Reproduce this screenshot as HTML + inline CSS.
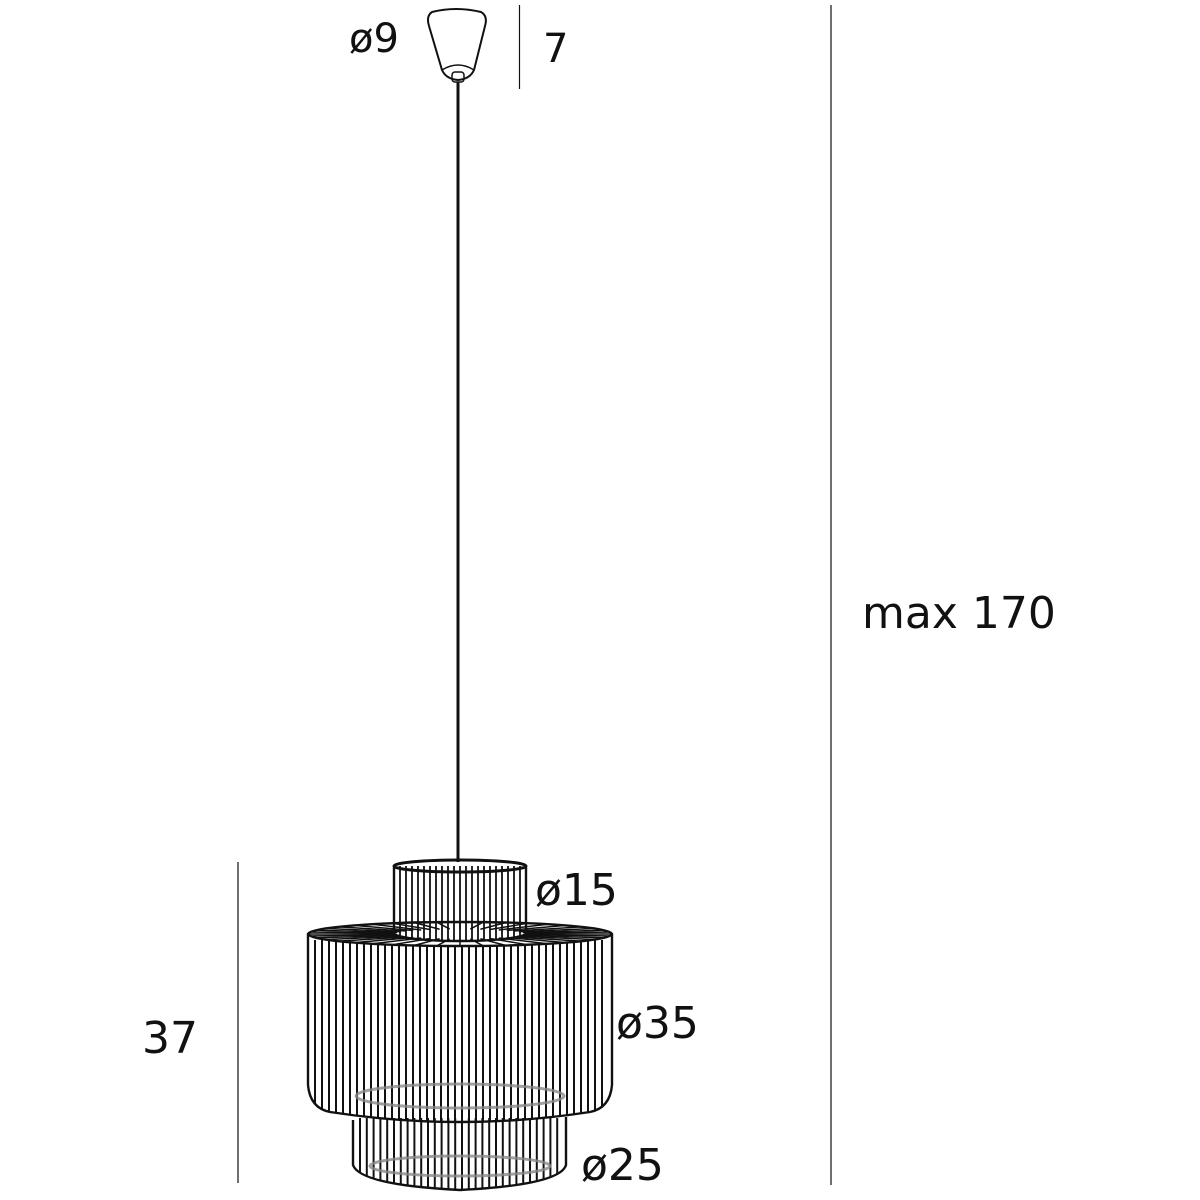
<!DOCTYPE html>
<html><head><meta charset="utf-8"><style>
html,body{margin:0;padding:0;background:#fff;}
svg{display:block}
text{font-family:"DejaVu Sans","Liberation Sans",sans-serif;fill:#111;}
</style></head><body>
<svg id="s" width="1200" height="1200" viewBox="0 0 1200 1200" xmlns="http://www.w3.org/2000/svg">
<defs>
<clipPath id="cBig"><path d="M308,934 L308,1085 Q310,1108 330,1112 Q460,1132 590,1112 Q610,1108 612,1085 L612,934 A152,12 0 0 1 308,934 Z"/></clipPath>
<clipPath id="cLow"><path d="M353,1115 L353,1165 Q360,1185 460,1190 Q560,1185 566,1165 L566,1115 Z"/></clipPath>
<clipPath id="cTop"><path d="M394,866 L394,933 A66,8 0 0 0 526,933 L526,866 Z"/></clipPath>
<clipPath id="cAnn"><path d="M308,934 A152,12 0 0 1 612,934 A152,12 0 0 1 308,934 Z"/></clipPath>
</defs>
<g fill="none" stroke="#111">
<line x1="519.5" y1="5" x2="519.5" y2="89" stroke-width="1.2"/>
<line x1="831" y1="5" x2="831" y2="1185" stroke-width="1.2"/>
<line x1="238" y1="862" x2="238" y2="1183" stroke-width="1.2"/>
<path d="M432,12 Q456,6 481,12 Q488,16 485,26 L474,70 Q470,79 458,80 Q446,79 442,70 L429,26 Q426,16 432,12 Z" stroke-width="2" fill="#fff"/>
<path d="M442,70 Q458,60 474,70" stroke-width="1.5"/>
<rect x="452" y="72" width="12" height="10" rx="3" stroke-width="1.5"/>
<line x1="458" y1="82" x2="458" y2="862" stroke-width="3"/>
</g>
<g id="stripes" stroke="#111" fill="none"></g>
<g fill="none" stroke="#111" stroke-width="2.4">
<path d="M308,934 L308,1085 Q310,1108 330,1112 Q460,1132 590,1112 Q610,1108 612,1085 L612,934"/>
<ellipse cx="460" cy="934" rx="152" ry="12"/>
<path d="M353,1120 L353,1165 Q360,1185 460,1190 Q560,1185 566,1165 L566,1117"/>
<path d="M394,866 L394,933 A66,8 0 0 0 526,933 L526,866"/>
<ellipse cx="460" cy="866" rx="66" ry="6" stroke-width="3"/>
</g>
<g fill="none" stroke="#888" stroke-width="3" opacity="0.8">
<ellipse cx="460" cy="1096" rx="104" ry="12"/>
<ellipse cx="460" cy="1166" rx="90" ry="10"/>
</g>
<text x="349" y="52" font-size="40">ø9</text>
<text x="543" y="62" font-size="40">7</text>
<text x="862" y="628" font-size="44">max 170</text>
<text x="535" y="905" font-size="44">ø15</text>
<text x="616" y="1038" font-size="44">ø35</text>
<text x="581" y="1180" font-size="44">ø25</text>
<text x="142" y="1053" font-size="44">37</text>
</svg>
<script>
var g=document.getElementById('stripes'),h='';
function vl(x1,x2,step,y1,y2,clip,w,c){
  for(var x=x1;x<=x2;x+=step){h+='<line x1="'+x+'" y1="'+y1+'" x2="'+x+'" y2="'+y2+'" stroke="'+(c||'#111')+'" stroke-width="'+w+'" clip-path="url(#'+clip+')"/>';}
}
vl(315,608,7,940,1135,'cBig',2);
vl(360,562,6.8,1118,1195,'cLow',2);
vl(400,522,6,866,945,'cTop',1.8);
for(var i=0;i<40;i++){var a=i/40*Math.PI*2;var x=460+160*Math.cos(a),y=934+13*Math.sin(a);
 h+='<line x1="'+(460+66*Math.cos(a))+'" y1="'+(934+5*Math.sin(a))+'" x2="'+x+'" y2="'+y+'" stroke-width="1.5" clip-path="url(#cAnn)"/>';}
g.innerHTML=h;
</script>
</body></html>
